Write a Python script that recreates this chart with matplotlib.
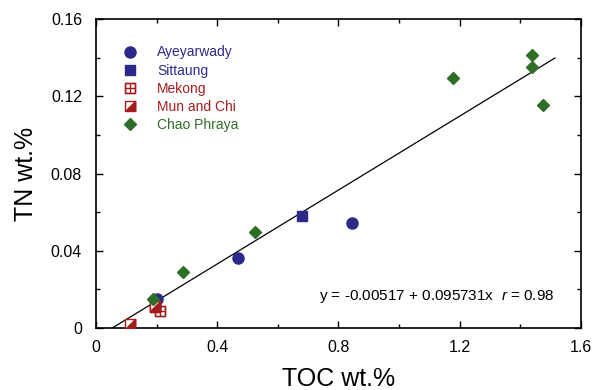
import matplotlib
matplotlib.use("Agg")
import matplotlib.pyplot as plt
from matplotlib.path import Path
from matplotlib.ticker import MultipleLocator, FixedFormatter, FixedLocator
import numpy as np

plt.rcParams['font.family'] = ['Liberation Sans', 'DejaVu Sans']
plt.rcParams['mathtext.fontset'] = 'custom'
plt.rcParams['mathtext.it'] = 'Liberation Sans:italic'
plt.rcParams['mathtext.rm'] = 'Liberation Sans'

# Data
ayey_toc = [0.20, 0.469, 0.846]
ayey_tn = [0.015, 0.0362, 0.0543]
sitt_toc = [0.681]
sitt_tn = [0.058]
mekong_toc = [0.211, 0.194]
mekong_tn = [0.0088, 0.011]
mun_toc = [0.112, 0.194]
mun_tn = [0.002, 0.0112]
chao_toc = [0.189, 0.287, 0.526, 1.18, 1.44, 1.44, 1.477]
chao_tn = [0.015, 0.029, 0.0497, 0.1295, 0.1414, 0.135, 0.1155]
fit_intercept = -0.00517
fit_slope = 0.095731
fit_r = 0.98
fit_xmax = 1.515

xticks = [0, 0.4, 0.8, 1.2, 1.6]
xticklabels = ['0', '0.4', '0.8', '1.2', '1.6']
yticks = [0, 0.04, 0.08, 0.12, 0.16]
yticklabels = ['0', '0.04', '0.08', '0.12', '0.16']

blue = '#2b2a8a'
red = '#a51c1c'
green = '#2f6e27'

fig = plt.figure(figsize=(5.92, 3.90), dpi=100)
ax = fig.add_axes([0.162, 0.159, 0.819, 0.792])

# regression line
x0 = -fit_intercept / fit_slope
xl = np.array([x0, fit_xmax])
ax.plot(xl, fit_intercept + fit_slope * xl, color='black', lw=0.9, zorder=2)

# marker paths
boxplus = Path([(-1, -1), (1, -1), (1, 1), (-1, 1), (-1, -1), (-1, 0), (1, 0), (0, -1), (0, 1)],
               [Path.MOVETO, Path.LINETO, Path.LINETO, Path.LINETO, Path.CLOSEPOLY,
                Path.MOVETO, Path.LINETO, Path.MOVETO, Path.LINETO])
tri = [(1, -1), (1, 1), (-1, -1)]

h1, = ax.plot(ayey_toc, ayey_tn, 'o', color=blue, ms=8, ls='none', zorder=3)
h2, = ax.plot(sitt_toc, sitt_tn, 's', color=blue, ms=7.5, ls='none', zorder=3)
h3a, = ax.plot(mekong_toc, mekong_tn, 's', mfc='white', mec=red, mew=1.0, ms=7.5, ls='none', zorder=3)
h3b, = ax.plot(mekong_toc, mekong_tn, marker=boxplus, mfc='none', mec=red, mew=1.0, ms=7.5, ls='none', zorder=3)
h4a, = ax.plot(mun_toc, mun_tn, 's', mfc='white', mec=red, mew=1.0, ms=7.5, ls='none', zorder=4)
h4b, = ax.plot(mun_toc, mun_tn, marker=tri, color=red, mew=1.0, ms=7.5, ls='none', zorder=4)
h5, = ax.plot(chao_toc, chao_tn, 'D', color=green, ms=6.5, ls='none', zorder=5)

leg = ax.legend([h1, h2, (h3a, h3b), (h4a, h4b), h5],
                ['Ayeyarwady', 'Sittaung', 'Mekong', 'Mun and Chi', 'Chao Phraya'],
                loc='upper left', bbox_to_anchor=(0.056, 0.915), frameon=False, fontsize=10,
                handlelength=1.0, handletextpad=1.45, labelspacing=0.3, borderaxespad=0.0,
                borderpad=0.0)
for t, c in zip(leg.get_texts(), [blue, blue, red, red, green]):
    t.set_color(c)

ax.text(0.945, 0.103, 'y = -0.00517 + 0.095731x  $r$ = 0.98', transform=ax.transAxes,
        ha='right', va='center', fontsize=11)

ax.set_xlim(0, 1.6)
ax.set_ylim(0, 0.16)
ax.xaxis.set_major_locator(FixedLocator(xticks))
ax.xaxis.set_major_formatter(FixedFormatter(xticklabels))
ax.yaxis.set_major_locator(FixedLocator(yticks))
ax.yaxis.set_major_formatter(FixedFormatter(yticklabels))
ax.xaxis.set_minor_locator(MultipleLocator(0.2))
ax.yaxis.set_minor_locator(MultipleLocator(0.02))
ax.tick_params(which='both', direction='in', top=True, right=True, width=1.0, colors='black')
ax.tick_params(which='major', length=5, labelsize=11.5, pad=9)
ax.tick_params(which='minor', length=3)
ax.tick_params(axis='y', which='major', pad=10)
for s in ax.spines.values():
    s.set_linewidth(1.2)

ax.set_xlabel('TOC wt.%', fontsize=18, labelpad=8)
ax.set_ylabel('TN wt.%', fontsize=18, labelpad=9)

fig.savefig('out.png', dpi=100)
